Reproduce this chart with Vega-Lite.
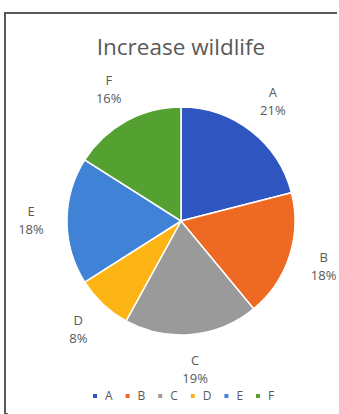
{
  "$schema": "https://vega.github.io/schema/vega-lite/v6.json",
  "width": 339,
  "height": 414,
  "autosize": {"type": "fit", "contains": "padding"},
  "padding": {"left": 5, "top": 13, "right": 0, "bottom": 0},
  "background": "white",
  "view": {"stroke": "#595959", "strokeWidth": 2, "strokeDash": [332, 734, 402, 0]},
  "title": {
    "text": "Increase wildlife",
    "offset": -46,
    "dx": 9,
    "fontSize": 22.5,
    "font": "Open Sans",
    "fontWeight": "normal",
    "color": "#595959",
    "anchor": "middle"
  },
  "data": {
    "values": [
      {"category": "A", "share": 0.21},
      {"category": "B", "share": 0.18},
      {"category": "C", "share": 0.19},
      {"category": "D", "share": 0.08},
      {"category": "E", "share": 0.18},
      {"category": "F", "share": 0.16}
    ]
  },
  "encoding": {
    "theta": {"field": "share", "type": "quantitative", "stack": true},
    "order": {"field": "category", "type": "ordinal", "sort": "ascending"}
  },
  "layer": [
    {
      "mark": {"type": "arc", "radius": 114, "stroke": "white", "strokeWidth": 1.5, "xOffset": 9, "yOffset": 7.5},
      "encoding": {
        "color": {
          "field": "category",
          "type": "nominal",
          "scale": {
            "domain": ["A", "B", "C", "D", "E", "F"],
            "range": ["#2F55C1", "#EE6A22", "#9A9A9A", "#FDB415", "#4082D6", "#54A030"]
          },
          "legend": {
            "orient": "none",
            "legendX": 84,
            "legendY": 377,
            "direction": "horizontal",
            "title": null,
            "symbolType": "square",
            "symbolSize": 30,
            "labelFontSize": 12,
            "labelFont": "Open Sans",
            "labelColor": "#595959",
            "columnPadding": 8.6,
            "labelOffset": 4
          }
        }
      }
    },
    {
      "mark": {"type": "text", "radius": 150, "dy": -9, "xOffset": 9, "yOffset": 7.5, "font": "Open Sans", "fontSize": 13},
      "encoding": {
        "detail": {"field": "category", "type": "nominal"},
        "text": {"field": "category", "type": "nominal"},
        "color": {"value": "#595959"}
      }
    },
    {
      "mark": {"type": "text", "radius": 150, "dy": 9, "xOffset": 9, "yOffset": 7.5, "font": "Open Sans", "fontSize": 13},
      "encoding": {
        "detail": {"field": "category", "type": "nominal"},
        "text": {"field": "share", "type": "quantitative", "format": ".0%"},
        "color": {"value": "#595959"}
      }
    }
  ]
}
